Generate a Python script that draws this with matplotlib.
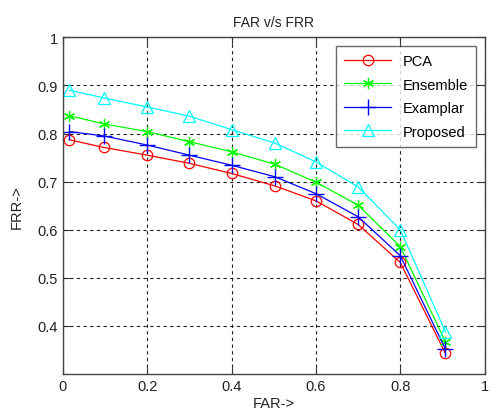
import matplotlib
matplotlib.use("Agg")
import matplotlib.pyplot as plt

plt.rcParams['font.family'] = ['Liberation Sans', 'DejaVu Sans']

far = [0.015, 0.097, 0.2, 0.3, 0.4, 0.503, 0.6, 0.7, 0.8, 0.907]
pca = [0.787, 0.771, 0.755, 0.738, 0.717, 0.691, 0.660, 0.611, 0.532, 0.343]
ensemble = [0.837, 0.820, 0.804, 0.783, 0.762, 0.736, 0.699, 0.651, 0.565, 0.367]
examplar = [0.804, 0.795, 0.776, 0.755, 0.734, 0.710, 0.675, 0.627, 0.546, 0.352]
proposed = [0.890, 0.874, 0.855, 0.836, 0.808, 0.780, 0.741, 0.689, 0.600, 0.388]

xticks = [0, 0.2, 0.4, 0.6, 0.8, 1]
yticks = [0.4, 0.5, 0.6, 0.7, 0.8, 0.9, 1]
ytick_labels = ['0.4', '0.5', '0.6', '0.7', '0.8', '0.9', '1']

fig = plt.figure(figsize=(4.92, 4.14), dpi=100)
ax = fig.add_axes([0.128, 0.094, 0.857, 0.8135])

lw = 0.9
ax.plot(far, pca, color='#ff0000', marker='o', mfc='none', ms=7.5, lw=lw, mew=0.9, label='PCA')
ax.plot(far, ensemble, color='#00ff00', marker=(6, 2, 0), ms=8, lw=lw, mew=0.9, label='Ensemble')
ax.plot(far, examplar, color='#0000ff', marker='+', ms=11, lw=lw, mew=1.0, label='Examplar')
ax.plot(far, proposed, color='#00ffff', marker='^', mfc='none', ms=8.5, lw=lw, mew=0.9, label='Proposed')

ax.set_xlim(0, 1)
ax.set_ylim(0.3, 1)
ax.set_xticks(xticks)
ax.set_xticklabels(['0', '0.2', '0.4', '0.6', '0.8', '1'])
ax.set_yticks(yticks)
ax.set_yticklabels(ytick_labels)
ax.grid(True, color='#222222', linestyle=(0, (3, 3)), linewidth=0.8)
ax.tick_params(direction='in', top=True, right=True, labelsize=10.5, colors='#333333', length=5)
for lab in ax.get_xticklabels() + ax.get_yticklabels():
    lab.set_color('#222222')
for s in ax.spines.values():
    s.set_color('#444444')
    s.set_linewidth(1.0)

ax.set_title('FAR v/s FRR', fontsize=10, color='#222222', pad=8)
ax.set_xlabel('FAR->', fontsize=10.5, color='#222222', labelpad=2)
ax.set_ylabel('FRR->', fontsize=10.5, color='#222222', labelpad=10)

leg = ax.legend(loc='upper right', fontsize=10.5, frameon=True, fancybox=False,
                edgecolor='#444444', borderaxespad=0.6, handlelength=3.2,
                labelspacing=0.65, borderpad=0.55)
leg.get_frame().set_linewidth(1.0)

fig.savefig('out.png', dpi=100)
